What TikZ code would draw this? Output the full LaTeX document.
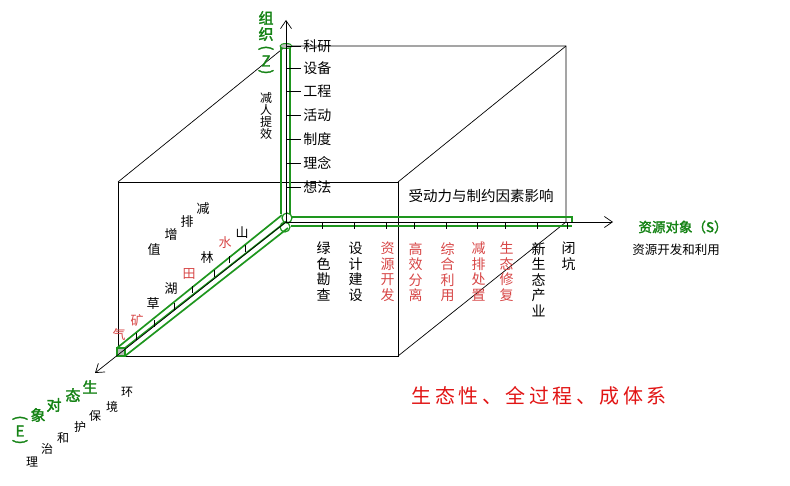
\documentclass[tikz,border=0pt]{standalone}
\usepackage{fontspec}
\setmainfont{Noto Sans CJK SC}[AutoFakeBold=2]
\usetikzlibrary{arrows.meta}

\definecolor{tubegreen}{RGB}{30,150,30}
\definecolor{labelgreen}{RGB}{20,130,20}
\definecolor{softred}{RGB}{215,70,70}
\definecolor{titlered}{RGB}{225,20,20}

\newcommand{\vopen}{\rotatebox[origin=c]{-90}{(}}
\newcommand{\vclose}{\rotatebox[origin=c]{-90}{)}}

\tikzset{
  cubeline/.style={black, line width=0.7pt},
  tube/.style={tubegreen, line width=1.7pt},
  axisline/.style={black, line width=0.7pt, -{Straight Barb[length=8pt,width=11pt]}},
  ticklab/.style={anchor=west, inner sep=0pt, font=\fontsize{14}{15}\selectfont},
  stagelab/.style={anchor=north, align=center, inner sep=0pt, font=\fontsize{14}{15.5}\selectfont},
  envlab/.style={inner sep=0pt, font=\fontsize{13}{15}\selectfont},
  axistitle/.style={inner sep=0pt, text=labelgreen, font=\fontsize{15}{16}\selectfont\bfseries, align=center},
}

\begin{document}
\begin{tikzpicture}[x=1pt,y=-1pt]
    \useasboundingbox (0,0) rectangle (790,486);
    % cube
    \coordinate (ftl) at (118,182);
    \coordinate (ftr) at (398,182);
    \coordinate (fbl) at (118,356);
    \coordinate (fbr) at (398,356);
    \coordinate (btl) at (286,46);
    \coordinate (btr) at (566,46);
    \coordinate (bbr) at (566,222);
    \draw[cubeline] (ftl) -- (ftr) -- (fbr) -- (fbl) -- cycle;
    \draw[cubeline] (ftl) -- (btl) -- (btr) -- (bbr) -- (fbr);
    \draw[cubeline] (btr) -- (ftr);

    % green tubes
    \draw[tube] (281,46) -- (281,214);
    \draw[tube] (290,46) -- (290,214);
    \filldraw[fill=gray!50, draw=tubegreen, line width=1pt] (286,46) ellipse (6 and 2.5);
    \draw[tube] (291,217) -- (572,217) -- (572,222);
    \draw[tube] (291,226) -- (572,226);
    \draw[tube] (117,348) -- (282,215);
    \draw[tube] (125,348) -- (287,221);
    \draw[tube] (125,356) -- (288,228);
    \draw[tube, line width=1.2pt] (287,218) circle (5);
    \draw[tube, line width=1.2pt] (285,227) circle (5);
    \filldraw[fill=gray!55, draw=tubegreen, line width=1.6pt] (117,348) rectangle (125,356);

    % axes
    \coordinate (O) at (286,222);
    \coordinate (zend) at (286,20);
    \coordinate (send) at (613,222);
    \coordinate (eend) at (95,373);
    \draw[axisline] (O) -- (zend);
    \draw[axisline] (O) -- (send);
    \draw[axisline] (O) -- (eend);

    % organisation axis
    \foreach \y/\t in {46/科研, 68/设备, 91/工程, 115/活动, 139/制度, 163/理念, 187/想法}{
        \coordinate (zt\y) at (286,\y);
        \draw[cubeline] (zt\y) -- ++(15,0) node[ticklab, right=2pt] (zl\y) {\t};
    }
    \node[axistitle] (ztitle) at (266,26) {组\\织};
    \node[axistitle] (zopen) at (266,49) {\vopen};
    \node[axistitle] (zletter) at (266,61) {Z};
    \node[axistitle] (zclose) at (266,73) {\vclose};
    \node[inner sep=0pt, align=center, font=\fontsize{12}{12}\selectfont] (zsub) at (266,116) {减\\人\\提\\效};

    % resource axis
    \foreach \x/\t/\c in {322/{绿\\色\\勘\\查}/black, 354/{设\\计\\建\\设}/black,
                          386/{资\\源\\开\\发}/softred, 414/{高\\效\\分\\离}/softred,
                          446/{综\\合\\利\\用}/softred, 477/{减\\排\\处\\置}/softred,
                          505/{生\\态\\修\\复}/softred, 537/{新\\生\\态\\产\\业}/black,
                          567/{闭\\坑}/black}{
        \coordinate (st\x) at (\x,222);
        \draw[cubeline] (st\x) -- ++(0,7);
        \node[stagelab, text=\c] (sl\x) at (\x+1.5,242) {\t};
    }
    \node[inner sep=0pt, text=labelgreen, font=\fontsize{13.5}{15}\selectfont\bfseries] (stitle) at (683,227) {资源对象（S）};
    \node[inner sep=0pt, font=\fontsize{12.5}{14}\selectfont] (ssub) at (676,250) {资源开发和利用};
    \node[inner sep=0pt, font=\fontsize{14.5}{16}\selectfont] (force) at (481,196) {受动力与制约因素影响};

    % environment axis
    \foreach \x/\y in {245/252, 229/263, 214/277, 192/293, 174/310, 154/327, 136/340}{
        \coordinate (et\x) at (\x,\y);
        \draw[cubeline] (et\x) -- ++(0,-7);
    }
    \node[envlab] (e1) at (242,233) {山};
    \node[envlab, text=softred] (e2) at (225,243) {水};
    \node[envlab] (e3) at (207,258) {林};
    \node[envlab, text=softred] (e4) at (189,274) {田};
    \node[envlab] (e5) at (171,289) {湖};
    \node[envlab] (e6) at (153,304) {草};
    \node[envlab, text=softred] (e7) at (137,321) {矿};
    \node[envlab, text=softred] (e8) at (119,335) {气};
    \node[envlab] (w1) at (203,209) {减};
    \node[envlab] (w2) at (187,222) {排};
    \node[envlab] (w3) at (171,235) {增};
    \node[envlab] (w4) at (154,250) {值};

    \node[axistitle] (g1) at (90,387) {生};
    \node[axistitle] (g2) at (73,395) {态};
    \node[axistitle] (g3) at (54,405) {对};
    \node[axistitle] (g4) at (38,415) {象};
    \node[axistitle] (gopen) at (20,419) {\vopen};
    \node[axistitle] (gletter) at (20,431) {E};
    \node[axistitle] (gclose) at (20,443) {\vclose};
    \node[envlab, font=\fontsize{12}{14}\selectfont] (h1) at (127,392) {环};
    \node[envlab, font=\fontsize{12}{14}\selectfont] (h2) at (112,407) {境};
    \node[envlab, font=\fontsize{12}{14}\selectfont] (h3) at (95,416) {保};
    \node[envlab, font=\fontsize{12}{14}\selectfont] (h4) at (80,427) {护};
    \node[envlab, font=\fontsize{12}{14}\selectfont] (h5) at (63,438) {和};
    \node[envlab, font=\fontsize{12}{14}\selectfont] (h6) at (47,449) {治};
    \node[envlab, font=\fontsize{12}{14}\selectfont] (h7) at (32,462) {理};

    % motto
    \node[inner sep=0pt, text=titlered, font=\fontsize{20}{22}\selectfont] (motto) at (539,396)
        {生\kern3.5pt 态\kern3.5pt 性\kern3.5pt 、\kern3.5pt 全\kern3.5pt 过\kern3.5pt 程\kern3.5pt 、\kern3.5pt 成\kern3.5pt 体\kern3.5pt 系};
\end{tikzpicture}
\end{document}
